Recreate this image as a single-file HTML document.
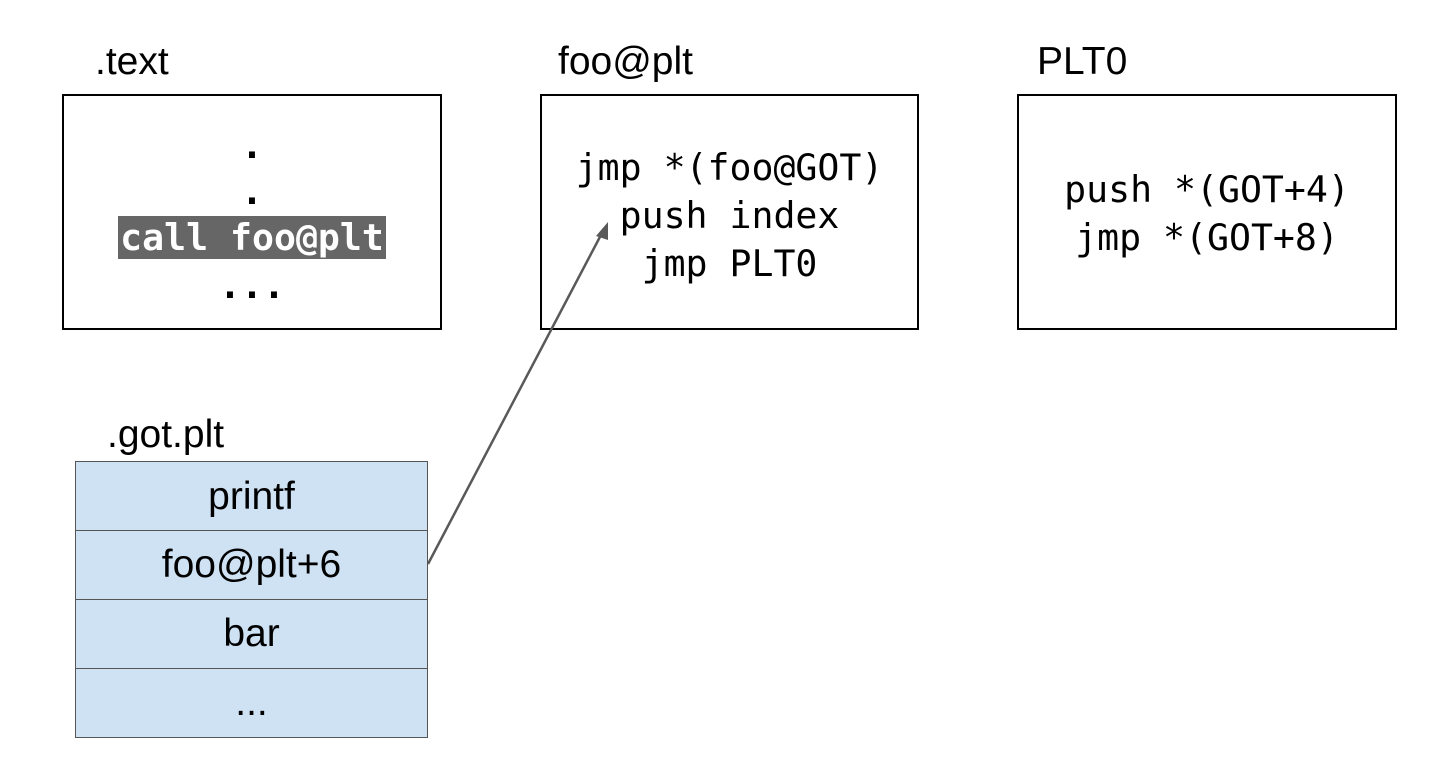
<!DOCTYPE html>
<html><head><style>
body{margin:0;width:1450px;height:784px;background:#fff;position:relative;overflow:hidden;font-family:"Liberation Sans",Arial,sans-serif}
.lbl{position:absolute;font-size:39px;color:#000;line-height:1}
.box{position:absolute;border:2px solid #000;box-sizing:border-box;background:#fff}
.mono{position:absolute;font-family:"DejaVu Sans Mono","Liberation Mono",monospace;font-size:36.5px;text-align:center;left:0;right:0;line-height:48px;color:#000}
.row{position:absolute;left:75px;width:353px;background:#cfe2f3;border:1.5px solid #555;box-sizing:border-box;font-size:39px;text-align:center;color:#000}
</style></head><body>
<div class="lbl" style="left:95px;top:42px">.text</div>
<div class="lbl" style="left:558px;top:42px">foo@plt</div>
<div class="lbl" style="left:1037px;top:42px">PLT0</div>
<div class="lbl" style="left:107px;top:415px">.got.plt</div>

<div class="box" style="left:62px;top:94px;width:380px;height:236px">
  <div class="mono" style="top:26px;font-weight:bold">.</div>
  <div class="mono" style="top:72px;font-weight:bold">.</div>
  <div class="mono" style="top:118px"><span style="background:#666;color:#fff;font-weight:bold;padding:0 2px">call foo@plt</span></div>
  <div class="mono" style="top:166px;font-weight:bold">...</div>
</div>
<div class="box" style="left:540px;top:94px;width:379px;height:236px">
  <div class="mono" style="top:48px">jmp *(foo@GOT)<br>push index<br>jmp PLT0</div>
</div>
<div class="box" style="left:1017px;top:94px;width:380px;height:236px">
  <div class="mono" style="top:70px">push *(GOT+4)<br>jmp *(GOT+8)</div>
</div>

<div class="row" style="top:461px;height:71px;line-height:69px">printf</div>
<div class="row" style="top:530px;height:70px;line-height:68px">foo@plt+6</div>
<div class="row" style="top:599px;height:70px;line-height:68px">bar</div>
<div class="row" style="top:668px;height:70px;line-height:68px">...</div>

<svg style="position:absolute;left:0;top:0" width="1450" height="784">
<line x1="428" y1="564" x2="602" y2="233" stroke="#595959" stroke-width="2.5"/>
<polygon points="608,222 596,236 608,240" fill="#595959"/>
</svg>
</body></html>
